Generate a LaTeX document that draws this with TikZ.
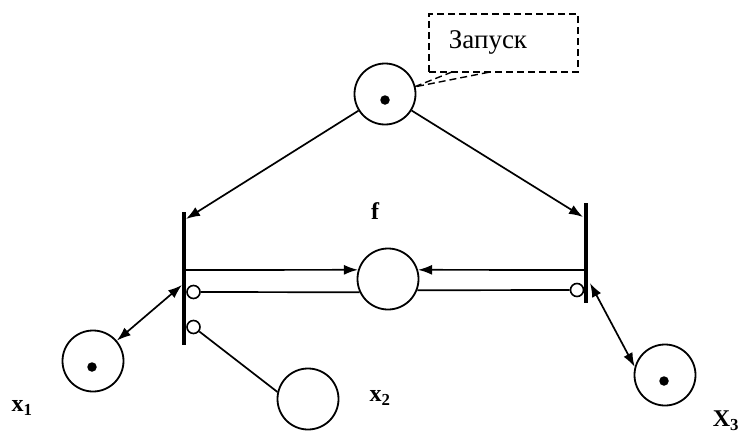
\documentclass[tikz,border=0pt]{standalone}
\usepackage{fontspec}
\setmainfont{Liberation Serif}
\usetikzlibrary{arrows.meta}
\begin{document}
\begin{tikzpicture}[x=1pt,y=-1pt,
  place/.style={draw,circle,line width=1.8pt,minimum size=61pt,inner sep=0pt},
  trans/.style={fill=black,draw=none,minimum width=3.8pt,inner sep=0pt},
  inh/.style={draw,circle,line width=1.6pt,minimum size=13pt,inner sep=0pt},
  tok/.style={fill=black,circle,minimum size=9.5pt,inner sep=0pt},
  arc/.style={line width=1.7pt},
  arr/.style={arc,-{Latex[length=14pt,width=10pt]}},
  darr/.style={arc,{Latex[length=14pt,width=10pt]}-{Latex[length=14pt,width=10pt]}},
  lbl/.style={font=\fontsize{24}{28}\selectfont\bfseries,inner sep=0pt},
  dsh/.style={line width=1.4pt,dash pattern=on 7pt off 4pt}]
\useasboundingbox (0,0) rectangle (740,434);
% places
\node[place] (top) at (385,94) {};
\node[tok] (ttop) at (385,100) {};
\node[place] (f) at (388,279) {};
\node[place] (x1) at (93,361) {};
\node[tok] (tx1) at (92,367) {};
\node[place] (x2) at (308,399) {};
\node[place] (x3) at (665,375) {};
\node[tok] (tx3) at (664,381) {};
% transitions
\node[trans,minimum height=133pt] (tL) at (184,278.5) {};
\node[trans,minimum height=100pt] (tR) at (586,253) {};
% inhibitor circles
\node[inh] (iL1) at (193.5,292) {};
\node[inh] (iL2) at (193.5,327) {};
\node[inh] (iR1) at (577,290) {};
% labels
\node[lbl] (lf) at (375,211) {f};
\node[lbl] (lx1) at (22,408) {x\textsubscript{1}};
\node[lbl] (lx2) at (380,398) {x\textsubscript{2}};
\node[lbl] (lx3) at (726,421) {X\textsubscript{3}};
% callout
\node[dsh,draw,minimum width=149pt,minimum height=58pt,inner sep=0pt] (call) at (503.5,43) {};
\node[inner sep=0pt,font=\fontsize{27}{31}\selectfont] (calltxt) at (488,42) {Запуск};
\coordinate (cA) at (452,72);
\coordinate (cB) at (490,72);
\coordinate (cT) at (414,87);
\draw[dsh] (cA) -- (cT) -- (cB);
% arc end points
\coordinate (tLa) at (186,219);
\coordinate (tRa) at (583,217);
\coordinate (lh) at (186,270);
\coordinate (rh) at (584,270);
\coordinate (tLb) at (182,285);
\coordinate (tRb) at (590,283);
% arcs
\draw[arr] (top) -- (tLa);
\draw[arr] (top) -- (tRa);
\draw[arr] (lh) -- (f.163);
\draw[arr] (rh) -- (f.17);
\draw[arc] (iL1.east) -- (f.205);
\draw[arc] (iR1.west) -- (f.339);
\draw[arc] (iL2) -- (x2.167);
\draw[darr] (x1) -- (tLb);
\draw[darr] (tRb) -- (x3.165);
\end{tikzpicture}
\end{document}
